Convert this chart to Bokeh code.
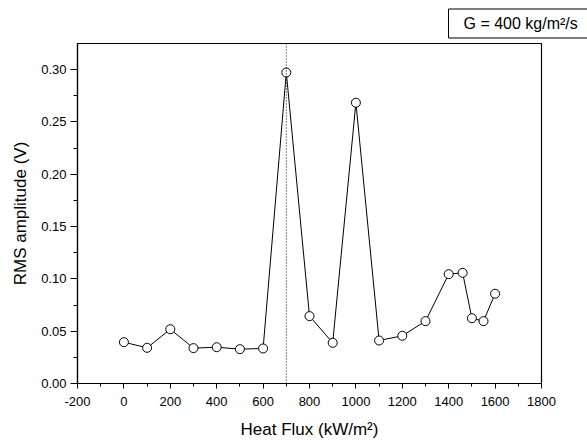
from bokeh.plotting import figure
from bokeh.models import Range1d, SingleIntervalTicker, PrintfTickFormatter, Span, Title, ColumnDataSource
from bokeh.embed import file_html
from bokeh.resources import INLINE

heat_flux = [0, 100, 200, 300, 400, 500, 600, 700, 800, 900, 1000, 1100, 1200, 1300, 1400, 1460, 1500, 1550, 1600]
rms_amplitude = [0.0395, 0.0341, 0.0519, 0.0338, 0.0347, 0.0328, 0.0335, 0.2973, 0.0644, 0.0389, 0.2684,
                 0.0411, 0.0456, 0.0596, 0.1045, 0.1058, 0.0624, 0.0596, 0.0858]
marker_line_x = 700
legend_text = "G = 400 kg/m\u00b2/s"

FONT = "Liberation Sans"

p = figure(width=587, height=445, output_backend="svg", toolbar_location=None,
           x_range=Range1d(-200, 1800), y_range=Range1d(0, 0.325),
           min_border_left=77, min_border_right=46, min_border_top=43, min_border_bottom=62)
p.grid.visible = False
p.outline_line_color = "black"
p.outline_line_width = 1.2
p.background_fill_color = "white"
p.border_fill_color = "white"

src = ColumnDataSource(dict(x=heat_flux, y=rms_amplitude))
p.add_layout(Span(location=marker_line_x, dimension="height", line_color="black",
                  line_width=1, line_dash="1 2"))
p.line("x", "y", source=src, line_color="black", line_width=1)
p.scatter("x", "y", source=src, marker="circle", size=9, fill_color="white",
          line_color="black", line_width=1)

xa = p.xaxis[0]
xa.ticker = SingleIntervalTicker(interval=200, num_minor_ticks=2)
xa.formatter = PrintfTickFormatter(format="%d")
xa.axis_label = "Heat Flux (kW/m\u00b2)"
ya = p.yaxis[0]
ya.ticker = SingleIntervalTicker(interval=0.05, num_minor_ticks=2)
ya.formatter = PrintfTickFormatter(format="%.2f")
ya.axis_label = "RMS amplitude (V)"

for ax in (xa, ya):
    ax.axis_line_color = "black"
    ax.axis_line_width = 1.2
    ax.major_tick_line_color = "black"
    ax.minor_tick_line_color = "black"
    ax.major_tick_in = 0
    ax.minor_tick_in = 0
    ax.major_label_text_font = FONT
    ax.major_label_text_font_size = "13px"
    ax.major_label_text_color = "black"
    ax.axis_label_text_font = FONT
    ax.axis_label_text_font_size = "17px"
    ax.axis_label_text_font_style = "normal"
    ax.axis_label_text_color = "black"

xa.major_tick_out = 5
xa.minor_tick_out = 3
xa.major_label_standoff = 8
xa.axis_label_standoff = 11
ya.major_tick_out = 7
ya.minor_tick_out = 4
ya.major_label_standoff = 4
ya.axis_label_standoff = 8

legend_box = Title(text=legend_text, align="left", offset=371, standoff=11,
                   text_font=FONT, text_font_size="16px", text_font_style="normal",
                   text_color="black", border_line_color="black", border_line_width=1,
                   background_fill_color="white", padding=(15, 6))
p.add_layout(legend_box, "above")

open("out.html", "w").write(file_html(p, INLINE))
